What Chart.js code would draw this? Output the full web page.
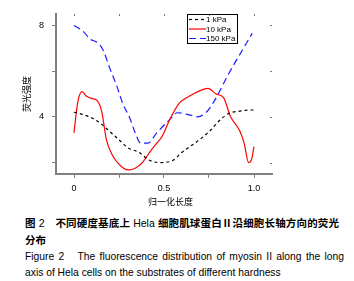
<!DOCTYPE html>
<html><head><meta charset="utf-8">
<script src="https://cdn.jsdelivr.net/npm/chart.js@4/dist/chart.umd.min.js"></script>
<style>
html,body{margin:0;padding:0;background:#fff}
body{width:354px;height:281px;overflow:hidden;position:relative;font-family:"Liberation Sans",Arial,"Noto Sans CJK SC",sans-serif}
#c{position:absolute;left:0;top:0}
.cap{position:absolute;left:25px;line-height:15px;color:#000;white-space:nowrap}
.zh{font-size:10.5px;font-family:"Liberation Sans","Noto Sans CJK SC",sans-serif}
.zh b{font-family:"Noto Sans CJK SC",sans-serif;font-weight:bold}
.en{font-size:10.3px}
.just{text-align:justify;text-align-last:justify;white-space:normal}
</style></head><body>
<canvas id="c" width="354" height="210"></canvas>
<div class="cap zh just" style="top:215px;width:314px"><b>图</b> 2　<b>不同硬度基底上</b> Hela <b>细胞肌球蛋白Ⅱ沿细胞长轴方向的荧光</b></div>
<div class="cap zh" style="top:231.5px"><b>分布</b></div>
<div class="cap en just" style="top:249px;width:319px">Figure 2　The fluorescence distribution of myosin II along the long</div>
<div class="cap en" style="top:264.5px">axis of Hela cells on the substrates of different hardness</div>
<script>
// ---- data ----
const seriesNames = ['1 kPa', '10 kPa', '150 kPa'];

const x1kPa = [0, 0.05, 0.1, 0.15, 0.2, 0.25, 0.3, 0.36, 0.42, 0.475, 0.55, 0.6, 0.68, 0.75, 0.81, 0.86, 0.92, 0.98, 1.0];
const y1kPa = [4.2, 4.1, 3.95, 3.7, 3.35, 3.0, 2.65, 2.45, 2.1, 2.0, 2.1, 2.45, 2.9, 3.35, 3.85, 4.15, 4.25, 4.3, 4.3];

const x10kPa = [0, 0.02, 0.044, 0.07, 0.1, 0.13, 0.155, 0.18, 0.215, 0.26, 0.3, 0.34, 0.38, 0.42, 0.46, 0.49, 0.53, 0.585, 0.64, 0.7, 0.745, 0.79, 0.83, 0.87, 0.92, 0.945, 0.97, 0.985, 1.0];
const y10kPa = [3.3, 4.6, 5.1, 4.9, 4.8, 4.7, 4.2, 3.0, 2.3, 1.85, 1.68, 1.75, 2.0, 2.45, 2.85, 3.15, 3.85, 4.6, 4.9, 5.15, 5.25, 5.0, 4.85, 4.0, 3.4, 2.85, 2.0, 2.1, 2.7];

const x150kPa = [0, 0.05, 0.09, 0.13, 0.16, 0.2, 0.24, 0.27, 0.31, 0.34, 0.37, 0.41, 0.46, 0.53, 0.575, 0.64, 0.685, 0.735, 0.78, 0.86, 0.93, 0.99];
const y150kPa = [8.0, 7.75, 7.4, 7.25, 6.95, 6.1, 5.3, 4.6, 3.95, 3.3, 2.85, 2.85, 3.3, 3.87, 4.18, 4.09, 4.0, 4.2, 4.7, 5.9, 6.85, 7.65];

const xTickVals = [0, 0.25, 0.5, 0.75, 1.0];
const xTickLabels = ['0', '', '0.5', '', '1.0'];
const yTickVals = [2, 4, 6, 8];
const yTickLabels = ['', '4', '', '8'];

const xTitle = '归一化长度';
const yTitle = '荧光强度';

// ---- build ----
const pts = (xs, ys) => xs.map((v, i) => ({x: v, y: ys[i]}));
const styles = [
  {color: '#000000', dash: [3, 3]},
  {color: '#ff0000', dash: []},
  {color: '#1a1aff', dash: [7, 4]}
];
const dataSets = [pts(x1kPa, y1kPa), pts(x10kPa, y10kPa), pts(x150kPa, y150kPa)];

const decor = {
  id: 'decor',
  afterDraw(chart) {
    const {ctx, chartArea: a, scales: {x, y}} = chart;
    ctx.save();
    ctx.fillStyle = '#777';
    xTickVals.forEach(v => { const px = Math.round(x.getPixelForValue(v)); ctx.fillRect(px, a.top, 1, 2); });
    yTickVals.forEach(v => { const py = Math.round(y.getPixelForValue(v)); ctx.fillRect(a.right - 2, py, 2, 1); });
    ctx.fillStyle = '#000';
    ctx.font = '9px "Noto Sans CJK SC"';
    ctx.textAlign = 'center';
    ctx.textBaseline = 'middle';
    ctx.fillText(xTitle, 170.5, 202);
    ctx.lineWidth = 1;
    ctx.strokeStyle = '#000';
    ctx.setLineDash([]);
    ctx.strokeRect(187.5, 14.5, 50, 29);
    const rows = [19.5, 29, 38.5];
    ctx.font = '8px "Liberation Sans"';
    ctx.textAlign = 'left';
    seriesNames.forEach((n, i) => {
      ctx.strokeStyle = styles[i].color;
      ctx.setLineDash(styles[i].dash);
      ctx.lineWidth = 1.2;
      ctx.beginPath(); ctx.moveTo(189, rows[i]); ctx.lineTo(206, rows[i]); ctx.stroke();
      ctx.fillStyle = '#000';
      ctx.fillText(n, 206, rows[i] + 0.5);
    });
    ctx.restore();
  }
};

new Chart(document.getElementById('c'), {
  type: 'scatter',
  data: {
    datasets: seriesNames.map((n, i) => ({
      label: n,
      data: dataSets[i],
      showLine: true,
      borderColor: styles[i].color,
      borderDash: styles[i].dash,
      borderWidth: 1.2,
      pointRadius: 0,
      fill: false,
      cubicInterpolationMode: 'monotone'
    }))
  },
  options: {
    responsive: false,
    animation: false,
    devicePixelRatio: 1,
    layout: {padding: {top: 14, right: 82, left: 0, bottom: 0}},
    plugins: {legend: {display: false}, tooltip: {enabled: false}},
    scales: {
      x: {
        type: 'linear', min: -0.1, max: 1.1,
        afterBuildTicks: s => { s.ticks = xTickVals.map(v => ({value: v})); },
        afterFit: s => { s.height = 36; },
        ticks: {
          autoSkip: false, maxRotation: 0, padding: 5, color: '#000',
          font: {family: '"Liberation Sans"', size: 9},
          callback: (v) => { const k = xTickVals.indexOf(v); return k >= 0 ? xTickLabels[k] : ''; }
        },
        grid: {drawOnChartArea: false, tickLength: 4, color: '#808080'},
        border: {color: '#808080', width: 2}
      },
      y: {
        type: 'linear', min: 1.5, max: 8.5,
        afterBuildTicks: s => { s.ticks = yTickVals.map(v => ({value: v})); },
        afterFit: s => { s.width = 56; },
        ticks: {
          autoSkip: false, padding: 8, color: '#000',
          font: {family: '"Liberation Sans"', size: 9},
          callback: (v) => { const k = yTickVals.indexOf(v); return k >= 0 ? yTickLabels[k] : ''; }
        },
        title: {display: true, text: yTitle, color: '#000', font: {family: '"Noto Sans CJK SC"', size: 9}, padding: {top: 21, bottom: 0}},
        grid: {drawOnChartArea: false, tickLength: 4, color: '#808080'},
        border: {color: '#808080', width: 2}
      }
    }
  },
  plugins: [decor]
});
</script>
</body></html>
